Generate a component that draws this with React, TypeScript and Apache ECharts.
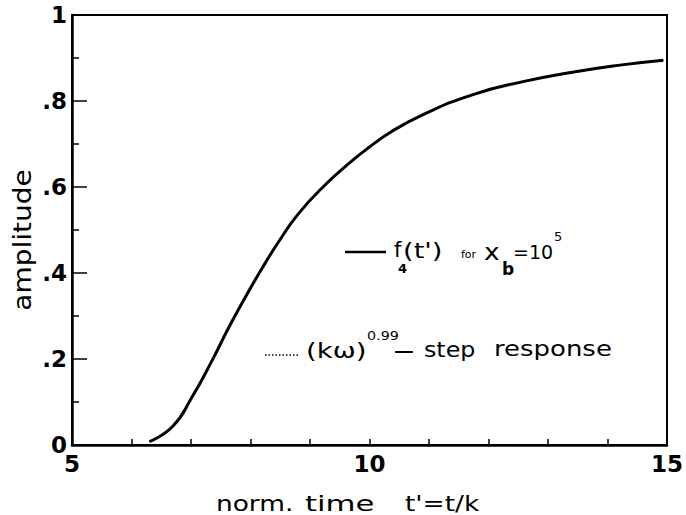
import { useEffect, useRef } from "react";
import * as echarts from "echarts";

// normalised time t' = t/k and the amplitude of f4(t')
const timeValues = [6.3, 6.69, 7.02, 7.36, 7.63, 7.91, 8.19, 8.47, 8.8, 9.24, 9.69, 9.97, 10.36, 10.91, 11.74, 12.58, 13.41, 14.24, 14.94];
const amplitudeValues = [0.008, 0.043, 0.112, 0.198, 0.272, 0.343, 0.41, 0.472, 0.537, 0.603, 0.659, 0.69, 0.728, 0.769, 0.815, 0.845, 0.867, 0.884, 0.895];

const xLabeled = [5, 10, 15];
const yLabelText: Record<string, string> = { "0": "0", "0.2": ".2", "0.4": ".4", "0.6": ".6", "0.8": ".8", "1": "1" };

const FONT = "DejaVu Sans";

function txt(text: string, x: number, y: number, size: number, sx = 1, weight = "normal") {
  return {
    type: "text",
    x,
    y,
    scaleX: sx,
    style: {
      text,
      fontFamily: FONT,
      fontSize: size,
      fontWeight: weight,
      fill: "#000",
      textAlign: "left",
      textVerticalAlign: "middle",
    },
  };
}

export default function App() {
  const ref = useRef<HTMLDivElement>(null);

  useEffect(() => {
    if (!ref.current) return;
    const chart = echarts.init(ref.current, null, { renderer: "svg" });
    const data = timeValues.map((t, i) => [t, amplitudeValues[i]]);

    chart.setOption({
      animation: false,
      backgroundColor: "#fff",
      grid: {
        left: 72,
        right: 14,
        top: 15,
        bottom: 70,
        show: true,
        borderColor: "#000",
        borderWidth: 2,
        backgroundColor: "transparent",
      },
      xAxis: {
        type: "value",
        min: 5,
        max: 15,
        interval: 1,
        axisLine: { lineStyle: { color: "#000", width: 2.5 } },
        axisTick: { inside: true, length: 6, lineStyle: { color: "#000", width: 1.5 } },
        splitLine: { show: false },
        axisLabel: {
          margin: 7,
          color: "#000",
          fontFamily: FONT,
          fontWeight: "bold",
          fontSize: 23,
          formatter: (v: number) => (xLabeled.includes(v) ? String(v) : ""),
        },
      },
      yAxis: {
        type: "value",
        min: 0,
        max: 1,
        interval: 0.2,
        axisLine: { lineStyle: { color: "#000", width: 2.5 } },
        axisTick: { inside: true, length: 15, lineStyle: { color: "#000", width: 1.5 } },
        minorTick: { show: true, splitNumber: 2, length: 7, lineStyle: { color: "#000", width: 1.5 } },
        splitLine: { show: false },
        minorSplitLine: { show: false },
        axisLabel: {
          margin: 5,
          color: "#000",
          fontFamily: FONT,
          fontWeight: "bold",
          fontSize: 23,
          formatter: (v: number) => yLabelText[String(Math.round(v * 10) / 10)] ?? "",
        },
      },
      series: [
        {
          type: "line",
          data,
          smooth: 0.5,
          showSymbol: false,
          lineStyle: { color: "#000", width: 3 },
        },
      ],
      graphic: [
        // axis titles
        {
          type: "text",
          x: 22,
          y: 240,
          rotation: Math.PI / 2,
          scaleX: 1.12,
          style: {
            text: "amplitude",
            fontFamily: FONT,
            fontSize: 25,
            fill: "#000",
            textAlign: "center",
            textVerticalAlign: "middle",
          },
        },
        txt("norm.", 216, 503, 22, 1.2),
        txt("time", 305, 503, 22, 1.4),
        txt("t'=t/k", 405, 503, 22, 1.2),
        // key: solid curve
        {
          type: "line",
          shape: { x1: 345, y1: 252, x2: 386, y2: 252 },
          style: { stroke: "#000", lineWidth: 2.5 },
        },
        txt("f", 394, 250, 21),
        txt("4", 398, 268, 13, 1, "bold"),
        txt("(t')", 403, 251, 21, 1.3),
        txt("for", 461, 254, 11),
        txt("x", 484, 252, 23, 1.15),
        txt("b", 502, 269, 17, 1, "bold"),
        txt("=10", 513, 252, 19),
        txt("5", 554, 236, 13),
        // key: dotted step response
        {
          type: "line",
          shape: { x1: 265, y1: 355, x2: 300, y2: 355 },
          style: { stroke: "#000", lineWidth: 1.5, lineDash: [1.5, 2] },
        },
        txt("(kω)", 306, 350, 22, 1.25),
        txt("0.99", 367, 335, 13, 1.1),
        {
          type: "line",
          shape: { x1: 395, y1: 352, x2: 413, y2: 352 },
          style: { stroke: "#000", lineWidth: 2 },
        },
        txt("step", 424, 349, 22, 1.08),
        txt("response", 494, 349, 22, 1.18),
      ],
    });

    return () => chart.dispose();
  }, []);

  return (
    <div
      ref={ref}
      style={{ position: "fixed", left: 0, top: 0, width: 686, height: 515, background: "#fff" }}
    />
  );
}
